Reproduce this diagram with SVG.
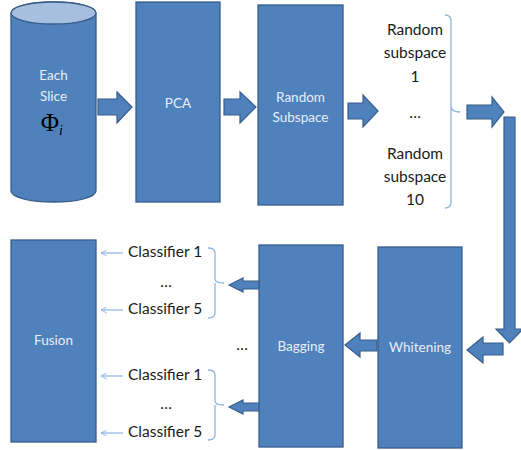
<svg xmlns="http://www.w3.org/2000/svg" width="521" height="450" viewBox="0 0 521 450">
  <style>
    .box { fill: #4f81bd; stroke: #385d8a; stroke-width: 1.3; }
    .top { fill: #a7bfde; stroke: #385d8a; stroke-width: 1.3; }
    .arrow { fill: #4f81bd; stroke: #385d8a; stroke-width: 1.2; stroke-linejoin: miter; }
    .inner { font-family: Lato, "Open Sans", "Liberation Sans", sans-serif; font-size: 13.5px; fill: #e8eef7; text-anchor: middle; }
    .label { font-family: Lato, "Open Sans", "Liberation Sans", sans-serif; font-size: 15.5px; fill: #1a1a1a; }
    .mid { text-anchor: middle; }
    .brace { fill: none; stroke: #8eb4e3; stroke-width: 1.3; }
    .thin { fill: none; stroke: #8eb4e3; stroke-width: 1.2; marker-end: url(#open); }
  </style>
  <defs>
    <marker id="open" viewBox="0 0 10 10" refX="9" refY="5" markerWidth="7" markerHeight="7" orient="auto" markerUnits="userSpaceOnUse">
      <path d="M1,1 L9,5 L1,9" fill="none" stroke="#8eb4e3" stroke-width="1.4"/>
    </marker>
  </defs>

  <rect width="521" height="450" fill="#ffffff"/>

  <!-- input volume slice -->
  <g id="slice">
    <path class="box" d="M11,13 A42.5,11 0 0 1 96,13 L96,191 A42.5,11 0 0 1 11,191 Z"/>
    <ellipse class="top" cx="53.5" cy="13" rx="42.5" ry="11"/>
    <text class="inner" x="53.5" y="80">Each</text>
    <text class="inner" x="53.5" y="101">Slice</text>
    <text x="50" y="131" font-family="Liberation Serif, serif" font-size="25" fill="#000" text-anchor="middle">Φ</text>
    <text x="59" y="135" font-family="Liberation Serif, serif" font-size="14" font-style="italic" fill="#000">i</text>
  </g>

  <g id="pca">
    <rect class="box" x="136" y="2" width="84" height="200"/>
    <text class="inner" x="178" y="108">PCA</text>
  </g>

  <g id="random-subspace">
    <rect class="box" x="258" y="5" width="85" height="200"/>
    <text class="inner" x="300.5" y="102">Random</text>
    <text class="inner" x="300.5" y="122">Subspace</text>
  </g>

  <g id="subspaces">
    <text class="label mid" x="415" y="35">Random</text>
    <text class="label mid" x="415" y="58">subspace</text>
    <text class="label mid" x="415" y="82">1</text>
    <text class="label mid" x="415" y="118">…</text>
    <text class="label mid" x="415" y="159">Random</text>
    <text class="label mid" x="415" y="182">subspace</text>
    <text class="label mid" x="415" y="205">10</text>
  </g>

  <g id="whitening">
    <rect class="box" x="378" y="247" width="84" height="201"/>
    <text class="inner" x="420" y="352">Whitening</text>
  </g>

  <g id="bagging">
    <rect class="box" x="259" y="245" width="84" height="202"/>
    <text class="inner" x="301" y="351">Bagging</text>
  </g>

  <g id="classifiers">
    <text class="label" x="128" y="257">Classifier 1</text>
    <text class="label mid" x="166" y="287">…</text>
    <text class="label" x="128" y="314">Classifier 5</text>
    <text class="label" x="128" y="380">Classifier 1</text>
    <text class="label mid" x="166" y="409">…</text>
    <text class="label" x="128" y="437">Classifier 5</text>
    <text class="label mid" x="242" y="350">…</text>
  </g>

  <g id="fusion">
    <rect class="box" x="11" y="240" width="85" height="202"/>
    <text class="inner" x="53.5" y="345">Fusion</text>
  </g>

  <g id="connectors">
    <!-- block arrows along the pipeline -->
    <polygon class="arrow" points="98,99 117,99 117,92 132,107 117,123 117,115 98,115"/>
    <polygon class="arrow" points="224,99 240,99 240,92 256,107 240,123 240,115 224,115"/>
    <polygon class="arrow" points="348,103 363,103 363,95 378,111 363,127 363,119 348,119"/>
    <polygon class="arrow" points="467,105 492,105 492,97 504,112 492,127 492,119 467,119"/>
    <polygon class="arrow" points="504,117 515,117 515,329 523,329 509.5,343 496,329 504,329"/>
    <polygon class="arrow" points="503,343 483,343 483,337 467,350 483,363 483,355 503,355"/>
    <polygon class="arrow" points="377,340 360,340 360,333 345,345 360,357 360,351 377,351"/>
    <polygon class="arrow" points="259,281 243,281 243,278 229,285 243,292 243,289 259,289"/>
    <polygon class="arrow" points="259,403 243,403 243,400 229,407 243,414 243,411 259,411"/>

    <!-- braces -->
    <path class="brace" d="M445,15 Q451,15 451,21 V106 Q451,112 460,112 M451,112 Q451,112 451,118 V202 Q451,208 445,208 M451,106 V118"/>
    <path class="brace" d="M208,248 Q215,248 215,253 V279 Q215,283 224,283 M215,283 V313 Q215,318 208,318"/>
    <path class="brace" d="M208,370 Q215,370 215,375 V401 Q215,405 224,405 M215,405 V435 Q215,440 208,440"/>

    <!-- classifier outputs into fusion -->
    <line class="thin" x1="123" y1="253" x2="101" y2="253"/>
    <line class="thin" x1="123" y1="310" x2="101" y2="310"/>
    <line class="thin" x1="123" y1="376" x2="101" y2="376"/>
    <line class="thin" x1="123" y1="433" x2="101" y2="433"/>
  </g>
</svg>
